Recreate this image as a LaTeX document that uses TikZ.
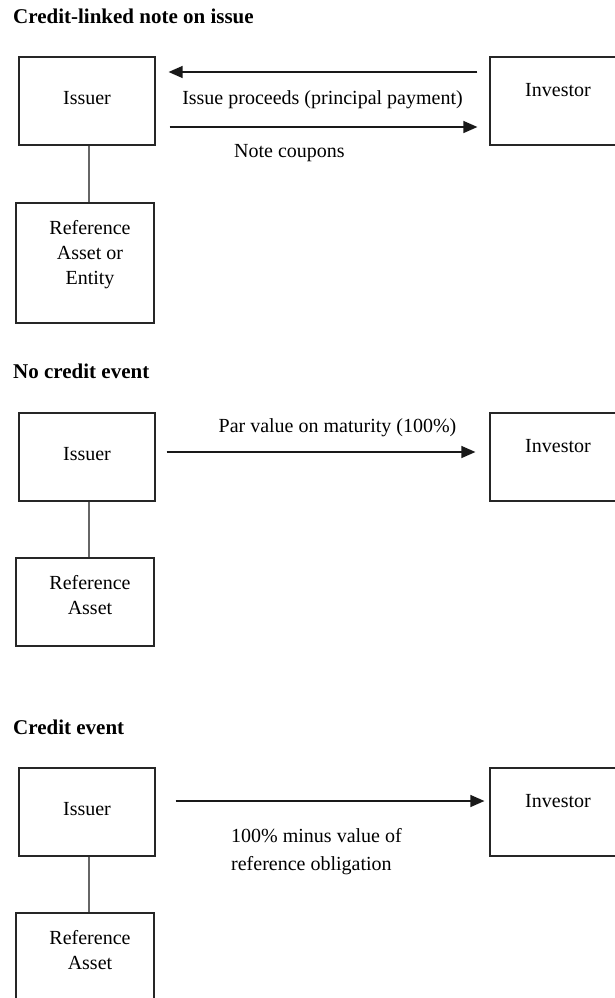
\documentclass[tikz,border=0pt]{standalone}
\usepackage{fontspec}
\setmainfont{Liberation Serif}
\usetikzlibrary{calc,positioning,arrows.meta}

\begin{document}
\begin{tikzpicture}[x=1bp, y=-1bp,
  every node/.style={inner sep=0pt, align=center, font=\fontsize{20bp}{25bp}\selectfont},
  kasten/.style={draw=black!85, line width=1.2bp, minimum width=136bp, minimum height=88bp},
  titel/.style={anchor=base west, font=\fontsize{21bp}{25bp}\selectfont\bfseries},
  fluss/.style={draw=black!90, line width=1.3bp, -{Triangle[length=14bp,width=12bp]}},
  stiel/.style={draw=black!60, line width=1.3bp}]
\useasboundingbox (0,0) rectangle (615,998);

%ABSCHNITT NR. 1 (von oben)

\node [titel] (titel1) at (13,23) {Credit-linked note on issue};

%KASTEN
\node [kasten] (issuer1) at (87,101) {};
\node (issuer1txt) at ($(issuer1)+(0,-3)$) {Issuer};
\node [kasten] (investor1) at (558,101) {};
\node (investor1txt) at ($(investor1)+(0,-11)$) {Investor};
\node [kasten, minimum width=138bp, minimum height=120bp] (ref1) at (85,263) {};
\node (ref1txt) at ($(ref1)+(5,-8)$) {Reference\\Asset or\\Entity};

%VERBINDUNGEN
\draw [stiel] ($(issuer1.south)+(2,0)$) -- ($(ref1.north)+(4,0)$);
\draw [fluss] ($(investor1.west)+(-12,-29)$) -- ($(issuer1.east)+(13,-29)$);
\draw [fluss] ($(issuer1.east)+(14,26)$) -- ($(investor1.west)+(-12,26)$);
\node (proceeds) at (322.5,100) {Issue proceeds (principal payment)};
\node (coupons) at (289.5,153) {Note coupons};




%ABSCHNITT NR. 2 (von oben)

\node [titel] (titel2) at (13,378) {No credit event};

%KASTEN
\node [kasten] (issuer2) at (87,457) {};
\node (issuer2txt) at ($(issuer2)+(0,-3)$) {Issuer};
\node [kasten] (investor2) at (558,457) {};
\node (investor2txt) at ($(investor2)+(0,-11)$) {Investor};
\node [kasten, minimum width=138bp] (ref2) at (85,602) {};
\node (ref2txt) at ($(ref2)+(5,-7)$) {Reference\\Asset};

%VERBINDUNGEN
\draw [stiel] ($(issuer2.south)+(2,0)$) -- ($(ref2.north)+(4,0)$);
\draw [fluss] ($(issuer2.east)+(11,-5)$) -- ($(investor2.west)+(-14,-5)$);
\node (parvalue) at (337.5,428) {Par value on maturity (100\%)};




%ABSCHNITT NR. 3 (von oben)

\node [titel] (titel3) at (13,734) {Credit event};

%KASTEN
\node [kasten] (issuer3) at (87,812) {};
\node (issuer3txt) at ($(issuer3)+(0,-3)$) {Issuer};
\node [kasten] (investor3) at (558,812) {};
\node (investor3txt) at ($(investor3)+(0,-11)$) {Investor};
\node [kasten, minimum width=138bp] (ref3) at (85,957) {};
\node (ref3txt) at ($(ref3)+(5,-7)$) {Reference\\Asset};

%VERBINDUNGEN
\draw [stiel] ($(issuer3.south)+(2,0)$) -- ($(ref3.north)+(4,0)$);
\draw [fluss] ($(issuer3.east)+(20,-11)$) -- ($(investor3.west)+(-5,-11)$);
\node [anchor=west, align=left] (recovery) at (231,852) {100\% minus value of\\[3bp]reference obligation};

\end{tikzpicture}
\end{document}
